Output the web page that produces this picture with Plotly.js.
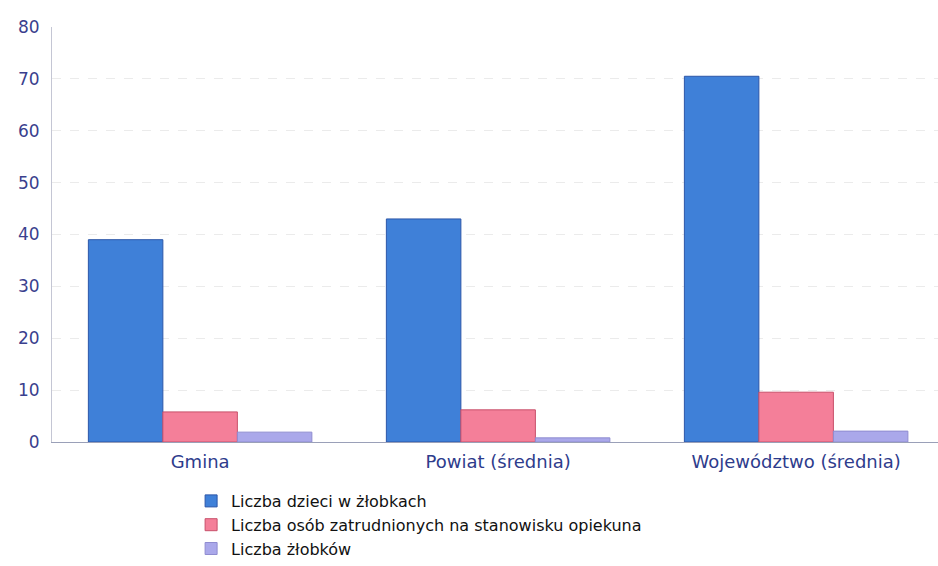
<!DOCTYPE html>
<html><head><meta charset="utf-8">
<script src="https://cdn.plot.ly/plotly-3.0.1.min.js"></script>
<style>html,body{margin:0;padding:0;background:#fff}#chart{width:938px;height:566px}</style>
</head><body><div id="chart"></div>
<script>
const categories = ["Gmina", "Powiat (średnia)", "Województwo (średnia)"];
const seriesNames = ["Liczba dzieci w żłobkach", "Liczba osób zatrudnionych na stanowisku opiekuna", "Liczba żłobków"];
const dzieci = [39, 43, 70.5];
const opiekunowie = [5.8, 6.2, 9.6];
const zlobki = [1.9, 0.8, 2.1];
const yTicks = [0, 10, 20, 30, 40, 50, 60, 70, 80];

const colors = ["#3f80d8", "#f47f99", "#aaa8ea"];
const lines = ["#2c56a8", "#c8506a", "#8f8cd0"];
const vals = [dzieci, opiekunowie, zlobki];
const traces = vals.map((v, i) => ({
  type: "bar", x: categories, y: v, name: seriesNames[i],
  marker: {color: colors[i], line: {color: lines[i], width: 1}},
  hoverinfo: "x+y"
}));
const layout = {
  width: 938, height: 566,
  margin: {l: 52, r: 0, t: 27, b: 123},
  paper_bgcolor: "#fff", plot_bgcolor: "#fff",
  barmode: "group", bargap: 0.25, bargroupgap: 0,
  font: {family: "DejaVu Sans, Verdana, sans-serif"},
  xaxis: {
    range: [-0.497, 2.476], automargin: false,
    tickfont: {size: 18, color: "#2e3c8c"}, showline: true, linecolor: "#9aa0b8", linewidth: 1,
    ticks: "", showgrid: false, ticklabelstandoff: 3
  },
  yaxis: {
    range: [0, 80], tickvals: yTicks, ticktext: yTicks.map(String), automargin: false,
    tickfont: {size: 17, color: "#3a3f8e"}, showline: true, linecolor: "#c4c6d4", linewidth: 1,
    gridcolor: "#ebebeb", griddash: "dash", gridwidth: 1, zeroline: false, ticks: "", ticklen: 0,
    ticklabelstandoff: 8
  },
  showlegend: true,
  legend: {
    x: 0.157, xanchor: "left", y: -0.1, yanchor: "top",
    orientation: "v", font: {size: 16, color: "#111"}, tracegroupgap: 0,
    itemwidth: 30, traceorder: "normal", bgcolor: "rgba(0,0,0,0)"
  }
};
Plotly.newPlot("chart", traces, layout, {displayModeBar: false, staticPlot: true});
</script></body></html>
